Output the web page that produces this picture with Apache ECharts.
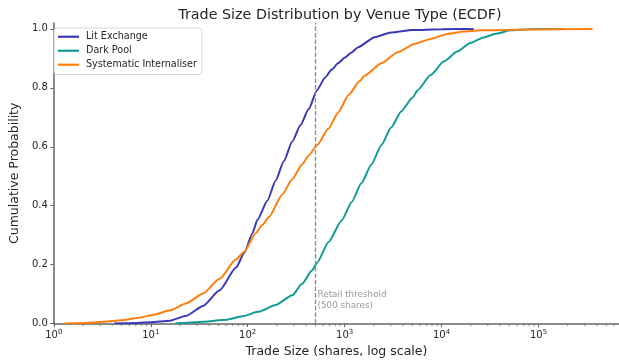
<!DOCTYPE html>
<html>
<head>
<meta charset="utf-8">
<script src="https://cdn.jsdelivr.net/npm/echarts@6/dist/echarts.min.js"></script>
<style>
  html, body { margin: 0; padding: 0; background: #ffffff; }
  #chart { width: 619px; height: 363px; }
</style>
</head>
<body>
<div id="chart"></div>
<script>
// ECDF of trade sizes per venue type: trade size (shares) and cumulative probability
const litSize = [4.2, 7, 10, 15.8, 23.4, 34.6, 51.3, 75.8, 92.3, 112, 126, 160, 194, 236, 288, 350, 426, 518, 629, 736, 861, 1007, 1178, 1380, 2040, 3020, 5000, 10000, 21400];
const litProb = [0, 0.002, 0.005, 0.01, 0.027, 0.06, 0.113, 0.19, 0.24, 0.307, 0.352, 0.418, 0.485, 0.551, 0.618, 0.673, 0.728, 0.792, 0.835, 0.862, 0.884, 0.903, 0.92, 0.938, 0.972, 0.988, 0.996, 0.999, 1.0];

const darkSize = [18, 20, 34.6, 59.9, 88.7, 131, 194, 288, 364, 460, 518, 682, 931, 1178, 1493, 1888, 2388, 3020, 3820, 5030, 5660, 7740, 10600, 14500, 19800, 27100, 37100, 50800, 80000, 185000];
const darkProb = [0, 0.002, 0.006, 0.013, 0.025, 0.041, 0.063, 0.096, 0.135, 0.18, 0.206, 0.277, 0.35, 0.412, 0.477, 0.54, 0.605, 0.665, 0.72, 0.767, 0.792, 0.844, 0.89, 0.923, 0.952, 0.971, 0.984, 0.995, 0.999, 1.0];

const siSize = [1.29, 2, 3.3, 4.9, 7.2, 10.7, 15.8, 23.4, 34.6, 51.3, 75.8, 92.3, 121, 142, 166, 227, 288, 364, 426, 518, 682, 861, 1091, 1432, 1611, 2388, 3534, 5230, 7740, 11460, 16950, 25000, 81000, 361000];
const siProb = [0, 0.002, 0.006, 0.011, 0.019, 0.030, 0.045, 0.069, 0.102, 0.152, 0.218, 0.244, 0.307, 0.335, 0.362, 0.438, 0.49, 0.54, 0.57, 0.605, 0.662, 0.717, 0.775, 0.823, 0.842, 0.883, 0.921, 0.949, 0.966, 0.983, 0.991, 0.995, 0.998, 1.0];

const seriesNames = ['Lit Exchange', 'Dark Pool', 'Systematic Internaliser'];
const seriesColors = ['#3a3ab4', '#129c94', '#ff7f0e'];

const yTicks = [0, 0.2, 0.4, 0.6, 0.8, 1.0];
const retailThreshold = 500;
const xMax = 676000;

// minor ticks at 2..9 x 10^k on the log axis
const minorTicks = [];
for (let k = 0; k <= 5; k++) {
  for (let m = 2; m <= 9; m++) {
    const v = m * Math.pow(10, k);
    if (v < xMax) minorTicks.push([v, 0]);
  }
}

const zip = (xs, ys) => xs.map((x, i) => [x, ys[i]]);
const font = 'DejaVu Sans';
const axisGray = '#666666';
const textDark = '#262626';

const chart = echarts.init(document.getElementById('chart'), null, { renderer: 'canvas' });

const lineSeries = (name, data, color) => ({
  name: name,
  type: 'line',
  data: data,
  showSymbol: false,
  symbol: 'none',
  smooth: 0.2,
  smoothMonotone: 'x',
  lineStyle: { color: color, width: 2 },
  itemStyle: { color: color },
  z: 3,
  animation: false
});

const option = {
  backgroundColor: '#ffffff',
  animation: false,
  textStyle: { fontFamily: font },
  title: {
    text: 'Trade Size Distribution by Venue Type (ECDF)',
    left: 335,
    top: 3,
    textAlign: 'center',
    textStyle: { fontFamily: font, fontSize: 14.3, fontWeight: 'normal', color: textDark }
  },
  legend: {
    orient: 'vertical',
    left: 54,
    top: 28,
    padding: [3, 5, 4, 4],
    icon: 'rect',
    itemWidth: 21,
    itemHeight: 2.2,
    itemGap: 2.5,
    backgroundColor: 'rgba(255,255,255,0.85)',
    borderColor: '#d5d5d5',
    borderWidth: 1,
    borderRadius: 3,
    data: seriesNames,
    textStyle: { fontFamily: font, fontSize: 9.6, lineHeight: 11.5, color: textDark, padding: [0, 0, 0, 2] }
  },
  grid: { left: 49, right: 0, top: 23, bottom: 32, containLabel: false },
  xAxis: {
    type: 'log',
    logBase: 10,
    min: 1,
    max: xMax,
    name: 'Trade Size (shares, log scale)',
    nameLocation: 'middle',
    nameGap: 18,
    nameTextStyle: { fontFamily: font, fontSize: 12.5, color: textDark },
    axisLine: { show: true, lineStyle: { color: axisGray, width: 1.5 } },
    axisTick: { show: true, length: 3.5, lineStyle: { color: axisGray, width: 1 } },
    splitLine: { show: false },
    axisLabel: {
      showMaxLabel: false,
      margin: 5,
      color: textDark,
      fontFamily: font,
      fontSize: 10,
      formatter: function (v) {
        const k = Math.round(Math.log10(v));
        return '{b|10}{e|' + k + '}';
      },
      rich: {
        b: { fontFamily: font, fontSize: 10, color: textDark },
        e: { fontFamily: font, fontSize: 7, color: textDark, verticalAlign: 'bottom', padding: [0, 0, 6, 0] }
      }
    }
  },
  yAxis: {
    type: 'value',
    min: 0,
    max: 1.02,
    interval: 0.2,
    name: 'Cumulative Probability',
    nameLocation: 'middle',
    nameGap: 29,
    nameTextStyle: { fontFamily: font, fontSize: 12.5, color: textDark },
    axisLine: { show: true, lineStyle: { color: axisGray, width: 1.5 } },
    axisTick: { show: true, length: 3.5, customValues: yTicks, lineStyle: { color: axisGray, width: 1 } },
    splitLine: { show: false },
    axisLabel: {
      customValues: yTicks,
      margin: 6,
      color: textDark,
      fontFamily: font,
      fontSize: 10,
      formatter: function (v) { return v.toFixed(1); }
    }
  },
  series: [
    lineSeries(seriesNames[0], zip(litSize, litProb), seriesColors[0]),
    lineSeries(seriesNames[1], zip(darkSize, darkProb), seriesColors[1]),
    lineSeries(seriesNames[2], zip(siSize, siProb), seriesColors[2]),
    {
      // retail threshold marker and its note
      name: 'threshold',
      type: 'line',
      data: [],
      symbol: 'none',
      silent: true,
      z: 2,
      markLine: {
        silent: true,
        symbol: ['none', 'none'],
        label: { show: false },
        lineStyle: { color: '#8c8c8c', type: [4.5, 2], width: 1.3 },
        data: [{ xAxis: retailThreshold }]
      },
      markPoint: {
        silent: true,
        symbol: 'circle',
        symbolSize: 0,
        data: [{ coord: [retailThreshold * 1.05, 0.08] }],
        label: {
          show: true,
          position: 'right',
          distance: 0,
          formatter: 'Retail threshold\n(500 shares)',
          color: '#999999',
          fontFamily: font,
          fontSize: 8.8,
          lineHeight: 10.5,
          align: 'left'
        }
      }
    },
    {
      // minor ticks along the log axis
      name: 'minorTicks',
      type: 'custom',
      data: minorTicks,
      silent: true,
      clip: false,
      encode: { x: 0, y: 1 },
      renderItem: function (params, api) {
        const p = api.coord([api.value(0), 0]);
        return {
          type: 'line',
          shape: { x1: p[0], y1: p[1] + 0.75, x2: p[0], y2: p[1] + 2.5 },
          style: { stroke: axisGray, lineWidth: 0.8 }
        };
      }
    }
  ]
};

chart.setOption(option);
</script>
</body>
</html>
